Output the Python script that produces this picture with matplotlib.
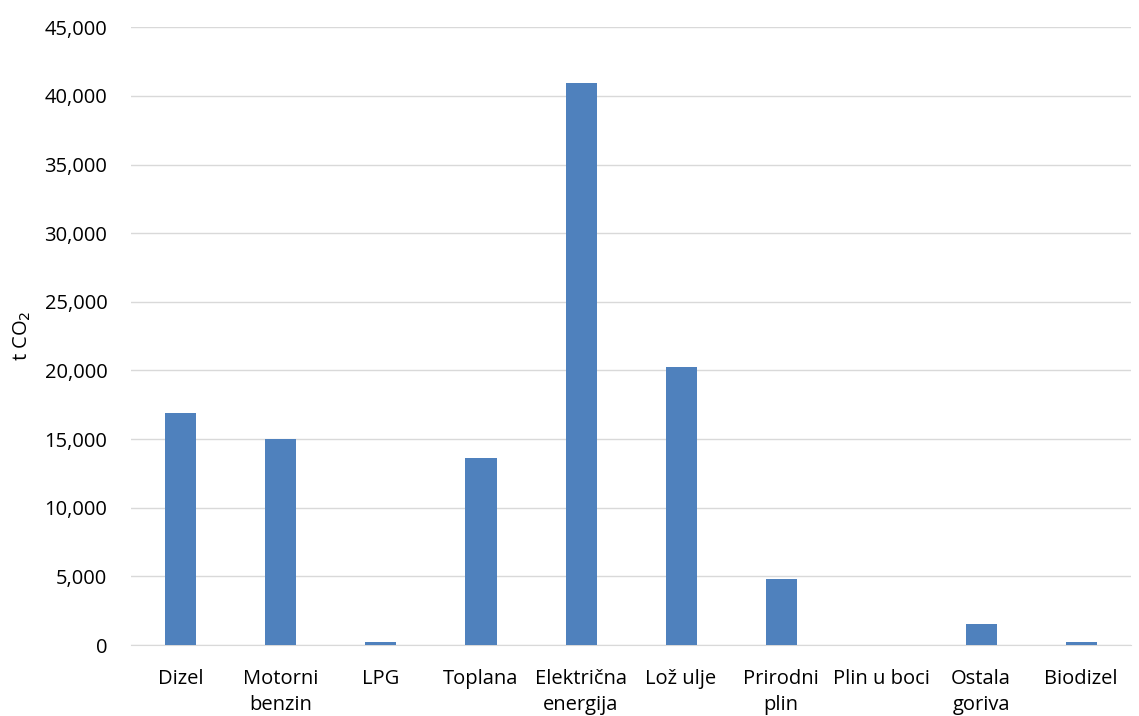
import numpy as np
import matplotlib.pyplot as plt
from matplotlib.ticker import FuncFormatter

# fuel categories and emissions (t CO2)
categories = ["Dizel", "Motorni\nbenzin", "LPG", "Toplana", "Električna\nenergija",
              "Lož ulje", "Prirodni\nplin", "Plin u boci", "Ostala\ngoriva", "Biodizel"]
emissions = [16900, 15000, 250, 13600, 40950, 20250, 4780, 0, 1550, 200]
y_ticks = [0, 5000, 10000, 15000, 20000, 25000, 30000, 35000, 40000, 45000]

plt.rcParams['font.family'] = ['Open Sans', 'DejaVu Sans']

fig = plt.figure(figsize=(11.39, 7.16), dpi=100)
ax = fig.add_axes([0.115, 0.099, 0.878, 0.863])

x = np.arange(len(categories))
ax.bar(x, emissions, width=0.31, color="#4f81bd", zorder=3)

ax.set_xlim(-0.5, len(categories) - 0.5)
ax.set_ylim(0, 45000)
ax.set_yticks(y_ticks)
ax.yaxis.set_major_formatter(FuncFormatter(lambda v, p: f"{int(v):,}"))
ax.set_xticks(x)
ax.set_xticklabels(categories, fontsize=14.5, linespacing=1.45, va="top")

ax.grid(axis="y", color="#d9d9d9", linewidth=1, zorder=0)
for s in ["top", "right", "left"]:
    ax.spines[s].set_visible(False)
ax.spines["bottom"].set_color("#d9d9d9")
ax.tick_params(axis="both", length=0, labelsize=14.5, colors="#000000")
ax.tick_params(axis="y", pad=17)
ax.tick_params(axis="x", pad=17)

ax.set_ylabel("t CO$_2$", fontsize=14.5, labelpad=8)

fig.savefig("out.png", dpi=100)
